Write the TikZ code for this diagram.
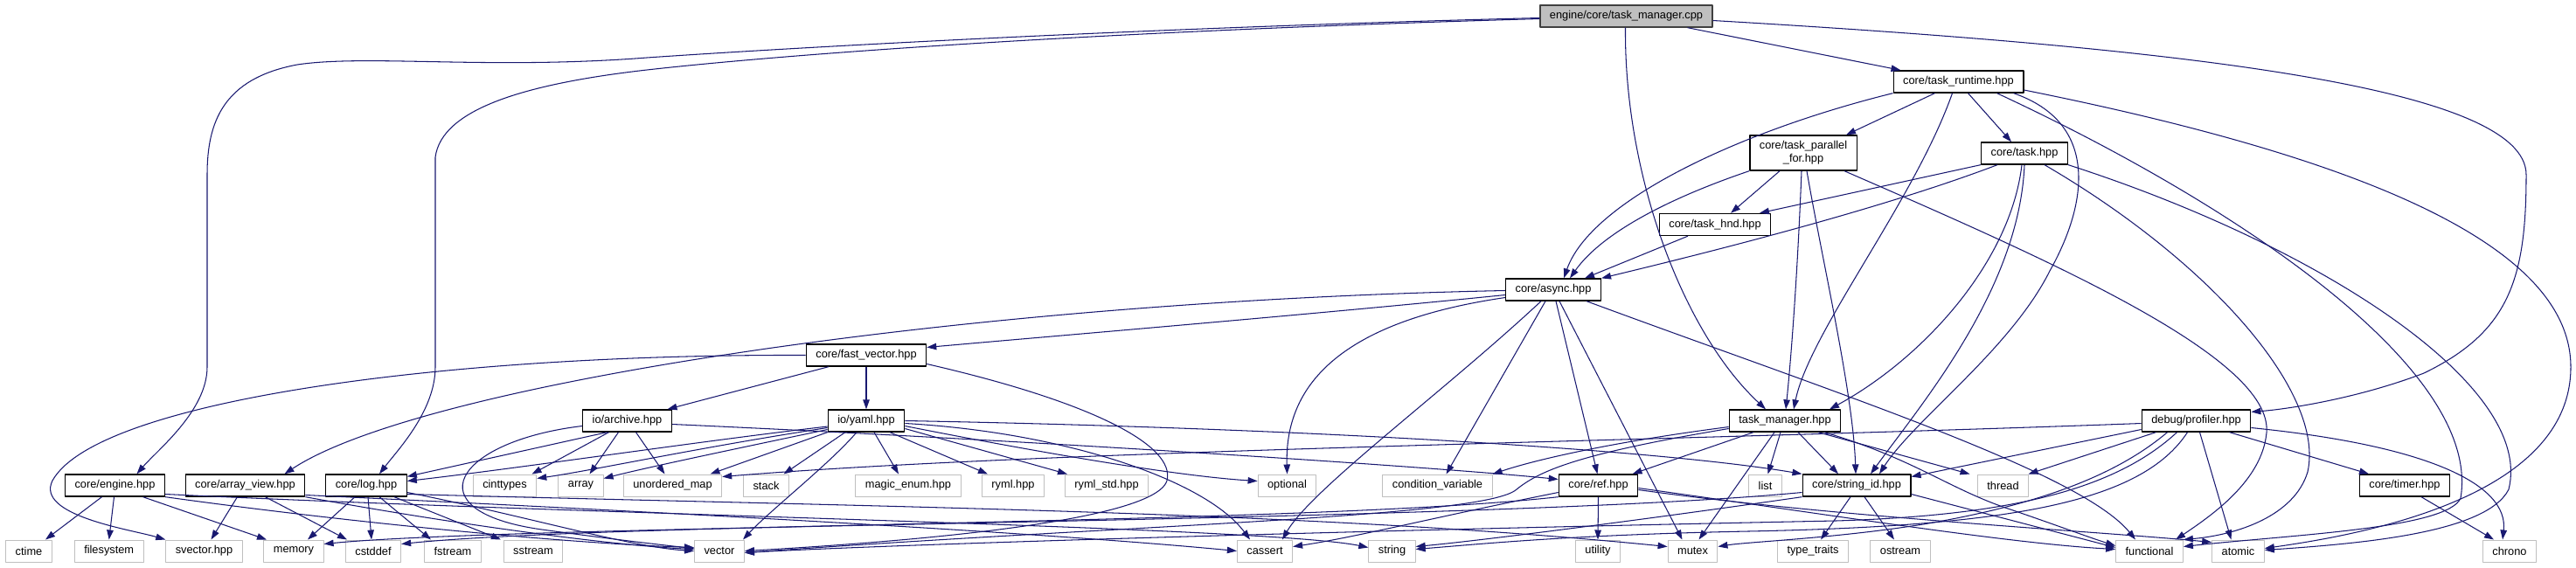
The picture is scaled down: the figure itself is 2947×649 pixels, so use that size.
\documentclass[tikz,border=0pt]{standalone}
\usepackage{fontspec}
\setmainfont{Liberation Sans}
\usetikzlibrary{arrows.meta}
\definecolor{edgeblue}{HTML}{191970}
\definecolor{sysgray}{HTML}{BFBFBF}
\definecolor{rootline}{HTML}{404040}
\tikzset{
  file/.style={draw=black, fill=white, line width=1.3pt, minimum height=25pt, inner xsep=11pt, inner ysep=2pt, font=\fontsize{12.8}{15}\selectfont},
  sysfile/.style={file, draw=sysgray, line width=1pt},
  rootfile/.style={file, fill=sysgray, draw=rootline},
  dep/.style={draw=edgeblue, line width=1.05pt, -{Triangle[length=11pt,width=7.5pt]}},
}
\begin{document}
\begin{tikzpicture}[x=1pt, y=-1pt, line join=round]
\useasboundingbox (0,0) rectangle (2947,649);
\node[rootfile] (root) at (1860.5,18.5) {engine/core/task\_manager.cpp};
\node[file] (trt) at (2240.5,93.5) {core/task\_runtime.hpp};
\node[file, align=center, minimum height=40pt] (tpf) at (2063,175) {core/task\_parallel\\\_for.hpp};
\node[file] (tsk) at (2316,175.5) {core/task.hpp};
\node[file] (thnd) at (1962,257) {core/task\_hnd.hpp};
\node[file] (async) at (1777,331.5) {core/async.hpp};
\node[file] (fvec) at (991,406.5) {core/fast\_vector.hpp};
\node[file] (arch) at (717.5,481.5) {io/archive.hpp};
\node[file] (yaml) at (991,481.5) {io/yaml.hpp};
\node[file] (tm) at (2042,481.5) {task\_manager.hpp};
\node[file] (prof) at (2512.5,481.5) {debug/profiler.hpp};
\node[file] (engine) at (131.5,555.5) {core/engine.hpp};
\node[file] (aview) at (280.5,555.5) {core/array\_view.hpp};
\node[file] (log) at (419,555.5) {core/log.hpp};
\node[file] (ref) at (1828.5,555.5) {core/ref.hpp};
\node[file] (sid) at (2124,555.5) {core/string\_id.hpp};
\node[file] (timer) at (2751,555.5) {core/timer.hpp};
\node[sysfile] (cint) at (577.5,555.5) {cinttypes};
\node[sysfile] (arr) at (664.5,555.5) {array};
\node[sysfile] (umap) at (769.5,555.5) {unordered\_map};
\node[sysfile] (stack) at (876.5,555.5) {stack};
\node[sysfile] (menum) at (1039,555.5) {magic\_enum.hpp};
\node[sysfile] (ryml) at (1159,555.5) {ryml.hpp};
\node[sysfile] (rymlstd) at (1266,555.5) {ryml\_std.hpp};
\node[sysfile] (opt) at (1472.5,555.5) {optional};
\node[sysfile] (cvar) at (1644.5,555.5) {condition\_variable};
\node[sysfile] (list) at (2019.5,555.5) {list};
\node[sysfile] (thread) at (2291.5,555.5) {thread};
\node[sysfile] (ctime) at (33,630.5) {ctime};
\node[sysfile] (fsys) at (124.7,630.5) {filesystem};
\node[sysfile] (svec) at (233.5,630.5) {svector.hpp};
\node[sysfile] (mem) at (336,630.5) {memory};
\node[sysfile] (cstd) at (427,630.5) {cstddef};
\node[sysfile] (fstr) at (518,630.5) {fstream};
\node[sysfile] (sstr) at (610,630.5) {sstream};
\node[sysfile] (vec) at (823,630.5) {vector};
\node[sysfile] (cass) at (1447,630.5) {cassert};
\node[sysfile] (str) at (1592.5,630.5) {string};
\node[sysfile] (util) at (1828,630.5) {utility};
\node[sysfile] (mtx) at (1936.5,630.5) {mutex};
\node[sysfile] (ttr) at (2074,630.5) {type\_traits};
\node[sysfile] (ost) at (2174,630.5) {ostream};
\node[sysfile] (func) at (2459,630.5) {functional};
\node[sysfile] (atom) at (2560.5,630.5) {atomic};
\node[sysfile] (chrono) at (2871,630.5) {chrono};

\draw[dep] ([xshift=-1pt]root.south) .. controls (1858,200) and (1925,380) .. ([xshift=-22pt]tm.north);
\draw[dep] ([yshift=-2pt]root.west) .. controls (1300,32) and (900,55) .. (740,66) .. controls (560,80) and (420,62) .. (340,74) .. controls (255,90) and (237,140) .. (237,200) -- (237,420) .. controls (237,470) and (180,515) .. ([xshift=25pt]engine.north);
\draw[dep] ([yshift=-3pt]root.west) .. controls (1250,36) and (900,62) .. (740,80) .. controls (600,96) and (505,125) .. (498,180) -- (498,420) .. controls (498,470) and (455,515) .. ([xshift=15pt]log.north);
\draw[dep] ([xshift=70pt]root.south) -- ([xshift=-66pt]trt.north);
\draw[dep] ([yshift=-5pt]root.east) .. controls (2500,55) and (2890,100) .. (2890,200) .. controls (2890,320) and (2870,380) .. (2773,427) .. controls (2700,455) and (2620,468) .. ([yshift=-3pt]prof.north east);

\draw[dep] ([xshift=-75pt]trt.south) .. controls (1990,150) and (1820,230) .. ([xshift=12pt]async.north);
\draw[dep] ([xshift=-27pt]trt.south) -- ([xshift=49pt]tpf.north);
\draw[dep] ([xshift=-7pt]trt.south) .. controls (2190,230) and (2070,380) .. ([xshift=10pt]tm.north);
\draw[dep] ([xshift=11pt]trt.south) -- ([xshift=-15pt]tsk.north);
\draw[dep] ([xshift=63pt]trt.south) .. controls (2400,140) and (2390,230) .. (2345,310) .. controls (2300,400) and (2190,480) .. ([xshift=26pt]sid.north);
\draw[dep] ([xshift=44pt]trt.south) .. controls (2550,230) and (2840,420) .. (2815,570) .. controls (2800,605) and (2620,612) .. ([yshift=5pt]func.east);
\draw[dep] ([yshift=-9.5pt]trt.east) .. controls (2700,180) and (2941,280) .. (2941,420) .. controls (2941,570) and (2700,612) .. ([yshift=3pt]atom.east);

\draw[dep] (tpf.south west) .. controls (1900,230) and (1830,270) .. ([xshift=19pt]async.north);
\draw[dep] ([xshift=-27pt]tpf.south) -- ([xshift=18pt]thnd.north);
\draw[dep] ([xshift=-2pt]tpf.south) .. controls (2057,300) and (2050,400) .. ([xshift=1pt]tm.north);
\draw[dep] ([xshift=4pt]tpf.south) .. controls (2085,300) and (2120,450) .. ([xshift=-1pt]sid.north);
\draw[dep] ([xshift=47pt]tpf.south) .. controls (2350,300) and (2600,410) .. (2593,495) .. controls (2588,550) and (2530,590) .. ([xshift=30pt]func.north);

\draw[dep] (tsk.south west) -- ([xshift=51pt]thnd.north);
\draw[dep] ([xshift=-31pt]tsk.south) .. controls (2150,240) and (1950,290) .. (async.north east);
\draw[dep] ([xshift=-3pt]tsk.south) .. controls (2300,300) and (2200,410) .. ([xshift=51pt]tm.north);
\draw[dep] (tsk.south) .. controls (2310,330) and (2200,460) .. ([xshift=16pt]sid.north);
\draw[dep] ([xshift=23pt]tsk.south) .. controls (2530,300) and (2660,450) .. (2640,540) .. controls (2625,590) and (2560,612) .. (func.north east);
\draw[dep] (tsk.south east) .. controls (2650,280) and (2900,440) .. (2870,560) .. controls (2845,610) and (2700,622) .. ([yshift=1pt]atom.east);

\draw[dep] ([xshift=-31pt]thnd.south) -- ([xshift=36pt]async.north);

\draw[dep] ([yshift=-1pt]async.west) .. controls (1100,345) and (480,440) .. ([xshift=45pt]aview.north);
\draw[dep] ([yshift=-6pt]async.west) .. controls (1500,360) and (1200,385) .. ([yshift=9pt]fvec.east);
\draw[dep] ([yshift=-9pt]async.west) .. controls (1520,370) and (1470,450) .. (opt.north);
\draw[dep] ([xshift=-14pt]async.south) .. controls (1650,450) and (1500,560) .. ([xshift=20pt]cass.north);
\draw[dep] ([xshift=-9pt]async.south) -- ([xshift=10pt]cvar.north);
\draw[dep] ([xshift=3pt]async.south) -- ([xshift=-1pt]ref.north);
\draw[dep] ([xshift=7pt]async.south) -- ([xshift=-12pt]mtx.north);
\draw[dep] ([xshift=38pt]async.south) .. controls (2100,450) and (2380,540) .. ([xshift=-16pt]func.north);

\draw[dep] (fvec.west) .. controls (500,405) and (110,460) .. (60,550) .. controls (40,590) and (150,606) .. (svec.north west);
\draw[dep] ([xshift=-43pt]fvec.south) -- ([xshift=46pt]arch.north);
\draw[dep] (fvec.south) -- (yaml.north);
\draw[dep] ([yshift=-10pt]fvec.east) .. controls (1250,460) and (1345,510) .. (1335,550) .. controls (1320,600) and (1000,622) .. (vec.east);

\draw[dep] ([xshift=-23pt]arch.south) -- ([yshift=-3pt]log.north east);
\draw[dep] ([xshift=-21pt]arch.south) -- ([xshift=31pt]cint.north);
\draw[dep] ([xshift=-10pt]arch.south) -- ([xshift=10pt]arr.north);
\draw[dep] ([xshift=10pt]arch.south) -- ([xshift=-9pt]umap.north);
\draw[dep] ([yshift=-6pt]arch.west) .. controls (520,505) and (470,585) .. (620,606) .. controls (700,617) and (760,624) .. ([yshift=3pt]vec.west);
\draw[dep] ([yshift=-4pt]arch.east) .. controls (1200,505) and (1650,535) .. ([yshift=7pt]ref.west);

\draw[dep] ([yshift=-6.5pt]yaml.west) .. controls (800,505) and (600,535) .. ([yshift=5pt]log.east);
\draw[dep] ([yshift=-8pt]yaml.west) .. controls (800,512) and (680,538) .. ([yshift=8pt]cint.east);
\draw[dep] ([yshift=-10pt]yaml.west) .. controls (830,516) and (740,535) .. ([yshift=8pt]arr.east);
\draw[dep] (yaml.south west) -- ([xshift=43pt]umap.north);
\draw[dep] ([xshift=-24pt]yaml.south) -- ([xshift=20pt]stack.north);
\draw[dep] ([xshift=-11pt]yaml.south) .. controls (950,530) and (880,585) .. ([xshift=27pt]vec.north);
\draw[dep] ([xshift=9pt]yaml.south) -- ([xshift=-11pt]menum.north);
\draw[dep] ([xshift=27pt]yaml.south) -- ([xshift=-29pt]ryml.north);
\draw[dep] ([yshift=-9pt]yaml.east) -- ([xshift=-45pt]rymlstd.north);
\draw[dep] ([yshift=-6pt]yaml.east) .. controls (1200,520) and (1350,545) .. ([yshift=5pt]opt.west);
\draw[dep] ([yshift=-3pt]yaml.east) .. controls (1220,495) and (1380,550) .. ([xshift=-17pt]cass.north);
\draw[dep] (yaml.east) .. controls (1500,490) and (1900,515) .. (sid.north west);

\draw[dep] ([xshift=-15pt]engine.south) -- ([xshift=19pt]ctime.north);
\draw[dep] ([xshift=-1pt]engine.south) -- (fsys.north);
\draw[dep] ([xshift=32pt]engine.south) -- ([xshift=-31pt]mem.north);
\draw[dep] (engine.south east) .. controls (400,598) and (650,622) .. ([yshift=4pt]vec.west);
\draw[dep] ([yshift=-10pt]engine.east) .. controls (700,590) and (1450,603) .. ([yshift=4pt]str.west);

\draw[dep] ([xshift=-9pt]aview.south) -- ([xshift=8pt]svec.north);
\draw[dep] ([xshift=23pt]aview.south) -- ([xshift=-30pt]cstd.north);
\draw[dep] (aview.south east) .. controls (520,600) and (700,624) .. ([yshift=2pt]vec.west);
\draw[dep] ([yshift=-11pt]aview.east) .. controls (800,588) and (1200,610) .. (cass.west);

\draw[dep] ([xshift=-13pt]log.south) -- ([xshift=16pt]mem.north);
\draw[dep] ([xshift=2pt]log.south) -- ([xshift=-2pt]cstd.north);
\draw[dep] ([xshift=15pt]log.south) -- ([xshift=-25pt]fstr.north);
\draw[dep] ([xshift=32pt]log.south) -- ([xshift=-37pt]sstr.north);
\draw[dep] ([yshift=-8pt]log.east) .. controls (600,590) and (720,626) .. (vec.west);
\draw[dep] ([yshift=-10pt]log.east) .. controls (1000,580) and (1500,585) .. ([yshift=5pt]mtx.west);

\draw[dep] ([yshift=-7pt]tm.west) .. controls (1850,505) and (1760,525) .. (cvar.north east);
\draw[dep] ([xshift=-36pt]tm.south) -- ([xshift=39pt]ref.north);
\draw[dep] ([xshift=-12pt]tm.south) -- ([xshift=7pt]mtx.north);
\draw[dep] ([xshift=-5pt]tm.south) -- ([xshift=3pt]list.north);
\draw[dep] ([xshift=15pt]tm.south) -- ([xshift=-21pt]sid.north);
\draw[dep] ([xshift=38pt]tm.south) -- ([xshift=-38pt]thread.north);
\draw[dep] ([xshift=45pt]tm.south) .. controls (2190,525) and (2230,560) .. (2300,583) .. controls (2350,600) and (2390,615) .. ([yshift=6pt]func.west);
\draw[dep] ([yshift=-9pt]tm.west) .. controls (1800,520) and (1760,540) .. (1735,560) .. controls (1700,592) and (1300,600) .. ([yshift=-2pt]vec.east);

\draw[dep] ([yshift=-8pt]ref.west) .. controls (1650,590) and (1550,615) .. ([yshift=5pt]cass.east);
\draw[dep] (ref.south) -- (util.north);
\draw[dep] ([yshift=-3pt]ref.east) .. controls (2100,590) and (2300,622) .. ([yshift=2pt]func.west);
\draw[dep] ([yshift=-5pt]ref.east) .. controls (2100,592) and (2400,608) .. ([yshift=10pt]atom.west);
\draw[dep] (ref.south west) .. controls (1500,600) and (700,598) .. ([yshift=8pt]cstd.east);

\draw[dep] ([xshift=-7pt]sid.south) -- ([xshift=9pt]ttr.north);
\draw[dep] ([xshift=9pt]sid.south) -- ([xshift=-7pt]ost.north);
\draw[dep] (sid.south west) .. controls (1900,592) and (1700,618) .. ([yshift=5pt]str.east);
\draw[dep] ([yshift=-10pt]sid.east) -- ([yshift=4pt]func.west);
\draw[dep] ([yshift=-8pt]sid.west) .. controls (1700,598) and (600,600) .. ([yshift=8pt]mem.east);

\draw[dep] ([yshift=-3pt]prof.west) .. controls (1900,505) and (1200,515) .. ([yshift=10pt]umap.east);
\draw[dep] ([yshift=-10pt]prof.west) -- ([yshift=10pt]sid.east);
\draw[dep] ([xshift=-46pt]prof.south) -- ([xshift=29pt]thread.north);
\draw[dep] ([xshift=-33pt]prof.south) .. controls (2420,545) and (2330,578) .. (2200,600) .. controls (2100,616) and (2000,620) .. ([yshift=5pt]mtx.east);
\draw[dep] ([xshift=-22pt]prof.south) .. controls (2420,560) and (2300,590) .. (2100,596) .. controls (1500,608) and (1000,624) .. ([yshift=-2pt]vec.east);
\draw[dep] ([xshift=-10pt]prof.south) .. controls (2450,575) and (2300,602) .. (2000,608) .. controls (1800,612) and (1700,622) .. ([yshift=2pt]str.east);
\draw[dep] ([xshift=4pt]prof.south) -- ([xshift=-8pt]atom.north);
\draw[dep] ([xshift=38pt]prof.south) -- ([xshift=-41pt]timer.north);
\draw[dep] ([yshift=-8pt]prof.east) .. controls (2780,510) and (2870,555) .. ([xshift=-8pt]chrono.north);
\draw[dep] ([xshift=19pt]timer.south) -- ([xshift=-18pt]chrono.north);
\end{tikzpicture}
\end{document}
